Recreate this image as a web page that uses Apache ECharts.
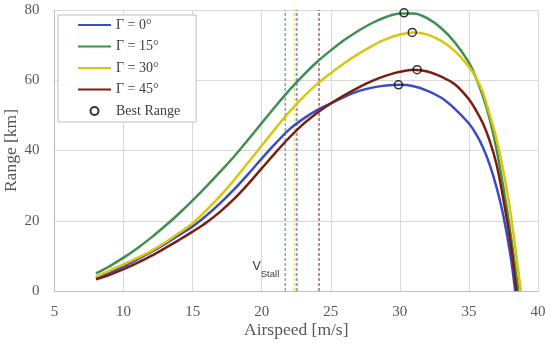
<!DOCTYPE html>
<html>
<head>
<meta charset="utf-8">
<script src="https://cdn.jsdelivr.net/npm/echarts@6/dist/echarts.min.js"></script>
<style>html,body{margin:0;padding:0;background:#fff}#c{width:550px;height:344px}</style>
</head>
<body>
<div id="c"></div>
<script>
// Airspeed samples [m/s]
const speeds = [8,9,10,11,12,13,14,15,16,17,18,19,20,21,22,23,24,25,26,27,28,29,30,31,32,33,34,35,35.5,36,36.5,37,37.5,38];
// Range [km] per dihedral angle
const range0  = [3.7,5.2,7.0,9.0,11.1,13.4,15.9,18.4,21.5,25.0,28.9,33.2,37.7,42.0,46.0,49.0,51.5,53.4,55.3,56.9,57.9,58.5,58.7,58.3,57.0,55.0,51.8,47.7,44.8,41.0,36.0,29.5,21.3,10.3];
const range15 = [5.0,7.1,9.5,12.2,15.2,18.5,22.0,25.8,29.8,34.0,38.3,43.0,47.8,52.6,57.2,61.4,65.2,68.5,71.5,74.1,76.3,78.0,79.0,79.0,77.6,74.8,70.7,65.0,60.8,55.6,49.0,40.3,29.3,16.7];
const range30 = [4.1,5.8,7.6,9.4,11.4,13.8,16.5,19.3,23.0,27.1,31.6,36.5,41.4,46.3,51.0,55.2,58.9,62.0,64.9,67.5,69.8,71.7,73.0,73.6,73.0,71.2,68.2,63.8,60.8,56.7,50.3,43.2,34.0,22.5];
const range45 = [3.3,4.6,6.2,8.0,10.0,12.2,14.5,16.9,19.5,22.6,26.2,30.4,34.9,39.4,43.7,47.5,50.7,53.4,55.8,57.9,59.8,61.3,62.4,63.0,62.5,61.0,58.8,54.6,51.5,47.8,42.8,36.0,26.0,14.0];
// speed where range reaches zero
const endSpeed = [38.35, 38.58, 38.76, 38.44];
// best range points
const bestSpeed = [29.9, 30.3, 30.9, 31.25];
const bestRange = [58.7, 79.2, 73.6, 63.0];
// stall speeds
const stallSpeed = [22.55, 21.7, 22.4, 24.15];
const names = ['Γ = 0°','Γ = 15°','Γ = 30°','Γ = 45°'];
const colors = ['#3b4cc0','#3f8f4f','#d8c70c','#7a1e0e'];
const xTicks = [5,10,15,20,25,30,35,40];
const yTicks = [0,20,40,60,80];
const stallLabelAt = [21.27, 6.0];

const allRanges = [range0, range15, range30, range45];
const serif = 'Liberation Serif';
const series = [];
stallSpeed.forEach((v,i)=>{
  series.push({
    type:'line', name:'stall'+i, data:[[v,yTicks[0]],[v,yTicks[yTicks.length-1]]],
    symbol:'none', silent:true, z:1,
    lineStyle:{color:colors[i], width:1, type:[3,2]}
  });
});
allRanges.forEach((r,i)=>{
  const d = speeds.map((s,j)=>[s, r[j]]);
  d.push([endSpeed[i], 0]);
  series.push({
    type:'line', name:names[i], data:d, symbol:'none', smooth:0.35, z:3,
    lineStyle:{color:colors[i], width:2.5}, itemStyle:{color:colors[i]}
  });
});
series.push({
  type:'scatter', name:'Best Range', z:5,
  data: bestSpeed.map((s,i)=>[s,bestRange[i]]),
  symbol:'circle', symbolSize:8,
  itemStyle:{color:'rgba(255,255,255,0)', borderColor:'#000', borderWidth:1.5}
});
series.push({
  type:'scatter', name:'vstall', z:6, silent:true,
  data:[stallLabelAt], symbolSize:0,
  label:{show:true, position:'left', distance:0,
    formatter:'{v|V}{s|Stall}',
    rich:{
      v:{fontFamily:'Liberation Sans', fontSize:12.5, color:'#000', verticalAlign:'bottom', padding:[0,0,6,0]},
      s:{fontFamily:'Liberation Sans', fontSize:9.5, color:'#000', verticalAlign:'bottom'}
    }}
});

const chart = echarts.init(document.getElementById('c'));
chart.setOption({
  animation:false,
  backgroundColor:'#fff',
  grid:{left:54.5, right:12, top:10, bottom:53, outerBoundsMode:'none', containLabel:false},
  legend:{
    orient:'vertical', left:58, top:15,
    data:[...names.map(n=>({name:n, itemStyle:{opacity:0}})), {name:'Best Range', icon:'circle'}],
    itemWidth:33, itemHeight:8, itemGap:7.5,
    padding:[3,16,4,19],
    borderColor:'#bfbfbf', borderWidth:1, backgroundColor:'#fff',
    textStyle:{fontFamily:serif, fontSize:14, color:'#404040'}
  },
  xAxis:{
    type:'value', min:xTicks[0], max:xTicks[xTicks.length-1], interval:5,
    name:'Airspeed [m/s]', nameLocation:'middle', nameGap:30, nameMoveOverlap:false,
    nameTextStyle:{fontFamily:serif, fontSize:17.5, color:'#595959'},
    axisLine:{lineStyle:{color:'#bfbfbf'}}, axisTick:{show:false},
    axisLabel:{fontFamily:serif, fontSize:15, color:'#595959', margin:14},
    splitLine:{show:true, lineStyle:{color:'#d9d9d9'}}
  },
  yAxis:{
    type:'value', min:yTicks[0], max:yTicks[yTicks.length-1], interval:20,
    name:'Range [km]', nameLocation:'middle', nameGap:34, nameMoveOverlap:false,
    nameTextStyle:{fontFamily:serif, fontSize:17.5, color:'#595959'},
    axisLine:{show:true, lineStyle:{color:'#bfbfbf'}}, axisTick:{show:false},
    axisLabel:{fontFamily:serif, fontSize:15, color:'#595959', margin:15},
    splitLine:{show:true, lineStyle:{color:'#d9d9d9'}}
  },
  series
});
</script>
</body>
</html>
